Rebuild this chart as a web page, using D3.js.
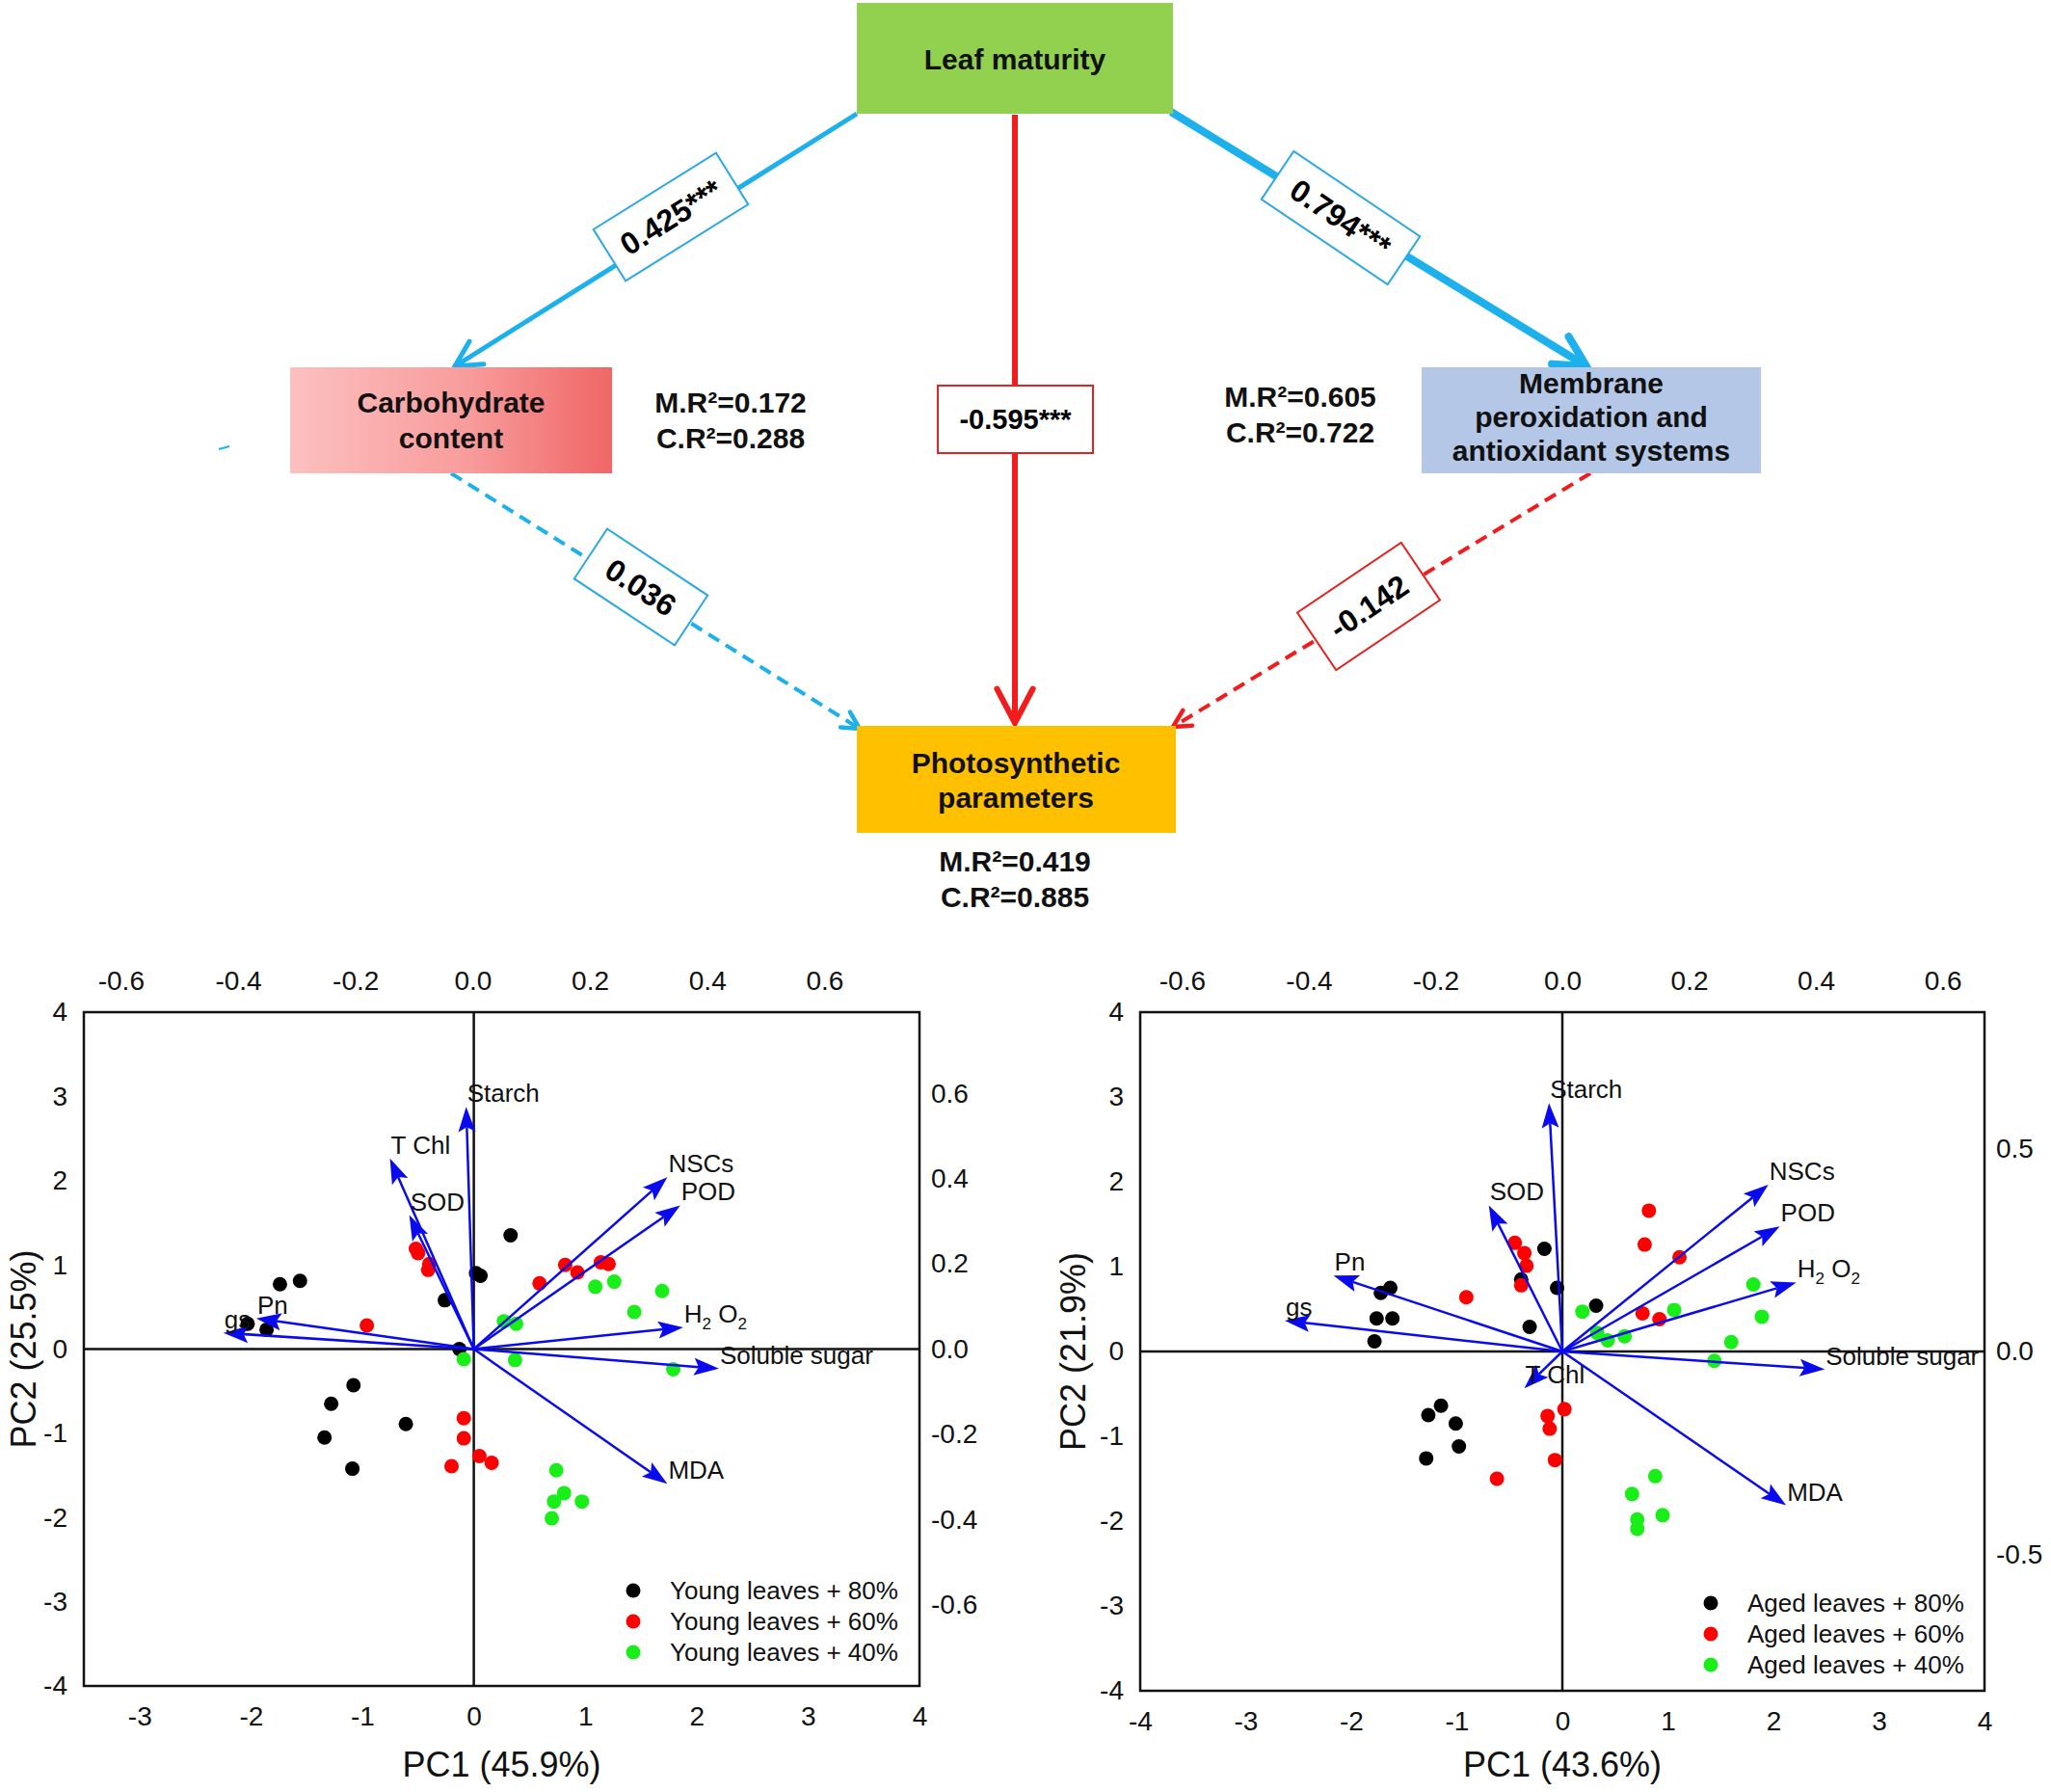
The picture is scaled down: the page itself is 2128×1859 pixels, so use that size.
<!DOCTYPE html>
<html>
<head>
<meta charset="utf-8">
<script src="https://cdn.jsdelivr.net/npm/d3@7"></script>
<style>
    body { margin: 0; background: #fff; }
    text { font-family: "Liberation Sans", Arial, sans-serif; }
</style>
</head>
<body>
<div id="figure"></div>
<script>
'use strict';

/*
* Values
 */

// structural equation model
const nodeLines = [
    ['Leaf maturity'],
    ['Carbohydrate', 'content'],
    ['Membrane', 'peroxidation and', 'antioxidant systems'],
    ['Photosynthetic', 'parameters']
];
const pathFrom = [0, 0, 0, 1, 2];
const pathTo = [1, 2, 3, 3, 3];
const pathCoef = ['0.425***', '0.794***', '-0.595***', '0.036', '-0.142'];
const pathSign = ['pos', 'pos', 'neg', 'pos', 'neg'];
const pathSignificant = [true, true, true, false, false];
const marginalR2 = [null, '0.172', '0.605', '0.419'];
const conditionalR2 = [null, '0.288', '0.722', '0.885'];

// PCA, young leaves
const youngScores80 = [[0.33, 1.35], [0.02, 0.90], [0.06, 0.87], [-1.74, 0.77], [-1.56, 0.81], [-0.26, 0.58], [-2.03, 0.30],
    [-1.86, 0.23], [-0.13, 0.00], [-1.08, -0.43], [-1.28, -0.65], [-0.61, -0.89], [-1.34, -1.05], [-1.09, -1.42]];
const youngScores60 = [[-0.52, 1.19], [-0.50, 1.14], [-0.40, 1.01], [-0.41, 0.94], [-0.96, 0.28], [0.59, 0.78], [0.82, 1.00],
    [0.93, 0.91], [1.14, 1.03], [1.21, 1.01], [-0.09, -0.82], [-0.09, -1.06], [0.05, -1.27], [0.16, -1.35], [-0.20, -1.39]];
const youngScores40 = [[1.09, 0.74], [1.26, 0.80], [1.69, 0.69], [1.44, 0.44], [0.27, 0.33], [0.38, 0.30], [-0.09, -0.12],
    [0.37, -0.13], [1.79, -0.24], [0.74, -1.44], [0.81, -1.71], [0.72, -1.81], [0.97, -1.81], [0.70, -2.01]];
const youngLoadings = [
    ['Starch', -0.011, 0.568], ['T Chl', -0.141, 0.447], ['SOD', -0.108, 0.314], ['NSCs', 0.332, 0.403],
    ['POD', 0.354, 0.337], ['H2O2', 0.359, 0.051], ['Soluble sugar', 0.420, -0.046], ['MDA', 0.332, -0.316],
    ['Pn', -0.369, 0.072], ['gs', -0.425, 0.038]
];

// PCA, aged leaves
const agedScores80 = [[-0.17, 1.21], [-0.39, 0.85], [-0.05, 0.75], [-1.72, 0.69], [-1.63, 0.75], [-1.76, 0.39], [-1.61, 0.39],
    [-1.78, 0.12], [-0.31, 0.29], [0.32, 0.54], [-1.27, -0.75], [-1.15, -0.64], [-1.01, -0.85], [-0.98, -1.12], [-1.29, -1.26]];
const agedScores60 = [[0.82, 1.66], [0.78, 1.26], [1.11, 1.11], [-0.45, 1.28], [-0.36, 1.16], [-0.34, 1.01], [-0.39, 0.78],
    [-0.91, 0.64], [0.76, 0.45], [0.92, 0.38], [0.02, -0.68], [-0.14, -0.76], [-0.12, -0.91], [-0.07, -1.28], [-0.62, -1.50]];
const agedScores40 = [[1.81, 0.79], [1.89, 0.41], [1.06, 0.49], [0.19, 0.47], [0.33, 0.22], [0.43, 0.13], [0.59, 0.18],
    [1.60, 0.11], [1.44, -0.11], [0.88, -1.47], [0.66, -1.68], [0.71, -1.98], [0.71, -2.09], [0.95, -1.93]];
const agedLoadings = [
    ['Starch', -0.021, 0.612], ['SOD', -0.116, 0.360], ['Pn', -0.361, 0.187], ['gs', -0.438, 0.076],
    ['T Chl', -0.060, -0.091], ['NSCs', 0.325, 0.411], ['POD', 0.343, 0.308], ['H2O2', 0.369, 0.170],
    ['Soluble sugar', 0.414, -0.044], ['MDA', 0.353, -0.379]
];

const scoreTicks = [-4, -3, -2, -1, 0, 1, 2, 3, 4];
const youngTopTicks = [-0.6, -0.4, -0.2, 0.0, 0.2, 0.4, 0.6];
const youngRightTicks = [-0.6, -0.4, -0.2, 0.0, 0.2, 0.4, 0.6];
const agedTopTicks = [-0.6, -0.4, -0.2, 0.0, 0.2, 0.4, 0.6];
const agedRightTicks = [-0.5, 0.0, 0.5];

/*
* Layout and styles
 */

const blue = '#1cb0ec',
    red = '#f21c1c';

let svg = d3.select('#figure').append('svg')
    .attr('width', 2128)
    .attr('height', 1859);

svg.append('rect').attr('width', 2128).attr('height', 1859).attr('fill', '#fff');

let defs = svg.append('defs');
let grad = defs.append('linearGradient').attr('id', 'carbGrad');
grad.append('stop').attr('offset', '0%').attr('stop-color', '#fcc0c0');
grad.append('stop').attr('offset', '55%').attr('stop-color', '#f89c9c');
grad.append('stop').attr('offset', '100%').attr('stop-color', '#f06666');

drawModel();

drawBiplot({
    left: 87, right: 954, top: 1050, bottom: 1749,
    xDomain: [-3.5, 4], xTicks: [-3, -2, -1, 0, 1, 2, 3, 4],
    topDomain: [-0.663, 0.762], topTicks: youngTopTicks,
    rightDomain: [-0.79, 0.79], rightTicks: youngRightTicks,
    groups: [youngScores80, youngScores60, youngScores40],
    loadings: youngLoadings,
    legend: ['Young leaves + 80%', 'Young leaves + 60%', 'Young leaves + 40%'],
    legendX: 657, legendY: 1650,
    xTitle: 'PC1 (45.9%)', yTitle: 'PC2 (25.5%)', yTitleX: 37
});

drawBiplot({
    left: 1183, right: 2059, top: 1050, bottom: 1754,
    xDomain: [-4, 4], xTicks: scoreTicks,
    topDomain: [-0.666, 0.666], topTicks: agedTopTicks,
    rightDomain: [-0.836, 0.836], rightTicks: agedRightTicks,
    groups: [agedScores80, agedScores60, agedScores40],
    loadings: agedLoadings,
    legend: ['Aged leaves + 80%', 'Aged leaves + 60%', 'Aged leaves + 40%'],
    legendX: 1775, legendY: 1663,
    xTitle: 'PC1 (43.6%)', yTitle: 'PC2 (21.9%)', yTitleX: 1126
});

function drawModel() {

    let nodeBox = [
        { x: 889, y: 3, w: 328, h: 115, fill: '#92d050', lineY: [72] , cx: 1053 },
        { x: 301, y: 381, w: 334, h: 110, fill: 'url(#carbGrad)', lineY: [428, 465], cx: 468 },
        { x: 1475, y: 381, w: 352, h: 110, fill: '#b4c7e7', lineY: [408, 443, 478], cx: 1651 },
        { x: 889, y: 753, w: 331, h: 111, fill: '#ffc000', lineY: [802, 838], cx: 1054 }
    ];

    let pathGeom = [
        { x1: 889, y1: 118, x2: 472, y2: 380, width: 5, head: 30, bx: 696, by: 225, bw: 150, bh: 63, angle: -32 },
        { x1: 1215, y1: 116, x2: 1646, y2: 380, width: 8, head: 36, bx: 1391, by: 226, bw: 158, bh: 60, angle: 34 },
        { x1: 1053, y1: 119, x2: 1053, y2: 750, width: 6, head: 40, bx: 1053.5, by: 435, bw: 161, bh: 70, angle: 0 },
        { x1: 468, y1: 491, x2: 892, y2: 756, width: 4, head: 20, bx: 665, by: 609, bw: 125, bh: 62, angle: 33.5 },
        { x1: 1650, y1: 491, x2: 1217, y2: 754, width: 4, head: 20, bx: 1420, by: 629, bw: 130, bh: 72, angle: -34 }
    ];

    let r2Pos = [null, { x: 758, y: 428 }, { x: 1349, y: 422 }, { x: 1053, y: 904 }];

    let model = svg.append('g').attr('id', 'model');

    // paths between the nodes
    let links = model.selectAll('.link')
        .data(pathCoef)
        .enter()
        .append('g')
        .attr('class', 'link');

    links.append('line')
        .attr('x1', function(d, i) { return pathGeom[i].x1; })
        .attr('y1', function(d, i) { return pathGeom[i].y1; })
        .attr('x2', function(d, i) { return pathGeom[i].x2; })
        .attr('y2', function(d, i) { return pathGeom[i].y2; })
        .style('stroke', function(d, i) { return pathSign[i] === 'pos' ? blue : red; })
        .style('stroke-width', function(d, i) { return pathGeom[i].width; })
        .style('stroke-dasharray', function(d, i) { return pathSignificant[i] ? null : '13,8'; });

    links.append('path')
        .attr('d', function(d, i) {
            let p = pathGeom[i],
                a = Math.atan2(p.y2 - p.y1, p.x2 - p.x1),
                spread = Math.PI / 6.5;
            let l1 = [p.x2 - p.head * Math.cos(a - spread), p.y2 - p.head * Math.sin(a - spread)],
                l2 = [p.x2 - p.head * Math.cos(a + spread), p.y2 - p.head * Math.sin(a + spread)];
            return 'M' + l1 + 'L' + p.x2 + ',' + p.y2 + 'L' + l2;
        })
        .style('fill', 'none')
        .style('stroke', function(d, i) { return pathSign[i] === 'pos' ? blue : red; })
        .style('stroke-width', function(d, i) { return Math.max(pathGeom[i].width, 4.5); })
        .style('stroke-linecap', 'round')
        .style('stroke-linejoin', 'miter');

    let labels = links.append('g')
        .attr('transform', function(d, i) {
            let p = pathGeom[i];
            return 'translate(' + p.bx + ',' + p.by + ') rotate(' + p.angle + ')';
        });

    labels.append('rect')
        .attr('x', function(d, i) { return -pathGeom[i].bw / 2; })
        .attr('y', function(d, i) { return -pathGeom[i].bh / 2; })
        .attr('width', function(d, i) { return pathGeom[i].bw; })
        .attr('height', function(d, i) { return pathGeom[i].bh; })
        .style('fill', '#fff')
        .style('stroke', function(d, i) { return pathSign[i] === 'pos' ? '#2aa8e4' : '#e32222'; })
        .style('stroke-width', 2);

    labels.append('text')
        .text(function(d) { return d; })
        .attr('text-anchor', 'middle')
        .attr('dy', '0.36em')
        .attr('font-weight', 'bold')
        .attr('font-size', function(d, i) { return pathGeom[i].angle === 0 ? 29 : 32; });

    // a small stray stroke left of the carbohydrate box
    model.append('line')
        .attr('x1', 227).attr('y1', 466).attr('x2', 238).attr('y2', 463)
        .style('stroke', blue).style('stroke-width', 2);

    // the nodes
    let nodes = model.selectAll('.node')
        .data(nodeLines)
        .enter()
        .append('g')
        .attr('class', 'node');

    nodes.append('rect')
        .attr('x', function(d, i) { return nodeBox[i].x; })
        .attr('y', function(d, i) { return nodeBox[i].y; })
        .attr('width', function(d, i) { return nodeBox[i].w; })
        .attr('height', function(d, i) { return nodeBox[i].h; })
        .style('fill', function(d, i) { return nodeBox[i].fill; });

    nodes.each(function(d, i) {
        d3.select(this).selectAll('text')
            .data(d)
            .enter()
            .append('text')
            .text(function(t) { return t; })
            .attr('x', nodeBox[i].cx)
            .attr('y', function(t, j) { return nodeBox[i].lineY[j]; })
            .attr('text-anchor', 'middle')
            .attr('font-weight', 'bold')
            .attr('font-size', 30)
            .attr('fill', '#111');
    });

    // explained variance
    marginalR2.forEach(function(m, i) {
        if (m === null) { return; }
        let t = model.append('text')
            .attr('text-anchor', 'middle')
            .attr('font-weight', 'bold')
            .attr('font-size', 30)
            .attr('fill', '#111');
        t.append('tspan').attr('x', r2Pos[i].x).attr('y', r2Pos[i].y).text('M.R\u00b2=' + m);
        t.append('tspan').attr('x', r2Pos[i].x).attr('y', r2Pos[i].y + 37).text('C.R\u00b2=' + conditionalR2[i]);
    });
}

function drawBiplot(cfg) {

    let x = d3.scaleLinear().domain(cfg.xDomain).range([cfg.left, cfg.right]),
        y = d3.scaleLinear().domain([-4, 4]).range([cfg.bottom, cfg.top]),
        xl = d3.scaleLinear().domain(cfg.topDomain).range([cfg.left, cfg.right]),
        yl = d3.scaleLinear().domain(cfg.rightDomain).range([cfg.bottom, cfg.top]);

    let g = svg.append('g').attr('class', 'biplot');
    let fmt1 = function(v) { return v.toFixed(1); },
        fmt0 = function(v) { return String(v); };

    let axes = [
        { axis: d3.axisBottom(x).tickValues(cfg.xTicks).tickFormat(fmt0).tickPadding(21), tr: 'translate(0,' + cfg.bottom + ')' },
        { axis: d3.axisLeft(y).tickValues(scoreTicks).tickFormat(fmt0).tickPadding(17), tr: 'translate(' + cfg.left + ',0)' },
        { axis: d3.axisTop(xl).tickValues(cfg.topTicks).tickFormat(fmt1).tickPadding(23), tr: 'translate(0,' + cfg.top + ')' },
        { axis: d3.axisRight(yl).tickValues(cfg.rightTicks).tickFormat(fmt1).tickPadding(12), tr: 'translate(' + cfg.right + ',0)' }
    ];

    axes.forEach(function(a) {
        let ag = g.append('g').attr('transform', a.tr).call(a.axis.tickSize(0));
        ag.select('.domain').remove();
        ag.selectAll('text')
            .attr('font-size', 28)
            .attr('font-family', '"Liberation Sans", Arial, sans-serif')
            .attr('fill', '#111');
    });

    // frame and zero lines
    g.append('rect')
        .attr('x', cfg.left).attr('y', cfg.top)
        .attr('width', cfg.right - cfg.left).attr('height', cfg.bottom - cfg.top)
        .style('fill', 'none').style('stroke', '#111').style('stroke-width', 2.5);

    g.append('line')
        .attr('x1', cfg.left).attr('x2', cfg.right).attr('y1', y(0)).attr('y2', y(0))
        .style('stroke', '#111').style('stroke-width', 2.5);
    g.append('line')
        .attr('x1', x(0)).attr('x2', x(0)).attr('y1', cfg.top).attr('y2', cfg.bottom)
        .style('stroke', '#111').style('stroke-width', 2.5);

    // sample scores
    let colors = ['#000000', '#ff0000', '#19ee19'];

    cfg.groups.forEach(function(pts, k) {
        g.append('g').selectAll('circle')
            .data(pts)
            .enter()
            .append('circle')
            .attr('cx', function(d) { return x(d[0]); })
            .attr('cy', function(d) { return y(d[1]); })
            .attr('r', 7.5)
            .style('fill', colors[k]);
    });

    // variable loadings
    let vec = g.append('g').selectAll('.vector')
        .data(cfg.loadings)
        .enter()
        .append('g')
        .attr('class', 'vector');

    let headLen = 26, headHalf = 9, notch = 5;

    vec.append('line')
        .attr('x1', x(0)).attr('y1', y(0))
        .attr('x2', function(d) {
            let a = Math.atan2(yl(d[2]) - y(0), xl(d[1]) - x(0));
            return xl(d[1]) - (headLen - notch) * Math.cos(a);
        })
        .attr('y2', function(d) {
            let a = Math.atan2(yl(d[2]) - y(0), xl(d[1]) - x(0));
            return yl(d[2]) - (headLen - notch) * Math.sin(a);
        })
        .style('stroke', '#0a0aee')
        .style('stroke-width', 2.5);

    vec.append('path')
        .attr('d', function(d) {
            let tx = xl(d[1]), ty = yl(d[2]),
                a = Math.atan2(ty - y(0), tx - x(0)),
                c = Math.cos(a), s = Math.sin(a);
            let bx = tx - headLen * c, by = ty - headLen * s;
            let p1 = [bx + headHalf * s, by - headHalf * c],
                p2 = [bx - headHalf * s, by + headHalf * c],
                n = [tx - (headLen - notch) * c, ty - (headLen - notch) * s];
            return 'M' + tx + ',' + ty + 'L' + p1 + 'L' + n + 'L' + p2 + 'Z';
        })
        .style('fill', '#0a0aee');

    vec.append('text')
        .attr('x', function(d) { return xl(d[1]) + 1; })
        .attr('y', function(d) { return yl(d[2]) - 5; })
        .attr('font-size', 26)
        .attr('fill', '#111')
        .each(function(d) {
            let t = d3.select(this);
            if (d[0] === 'H2O2') {
                t.append('tspan').text('H');
                t.append('tspan').attr('font-size', 17).attr('dy', 7).text('2');
                t.append('tspan').attr('dy', -7).text(' O');
                t.append('tspan').attr('font-size', 17).attr('dy', 7).text('2');
            } else {
                t.text(d[0]);
            }
        });

    // legend
    let legend = g.append('g').selectAll('.key')
        .data(cfg.legend)
        .enter()
        .append('g')
        .attr('class', 'key')
        .attr('transform', function(d, i) { return 'translate(' + cfg.legendX + ',' + (cfg.legendY + i * 32) + ')'; });

    legend.append('circle')
        .attr('r', 7.5)
        .style('fill', function(d, i) { return colors[i]; });

    legend.append('text')
        .text(function(d) { return d; })
        .attr('x', 38)
        .attr('dy', '0.35em')
        .attr('font-size', 26)
        .attr('fill', '#111');

    // axis titles
    g.append('text')
        .text(cfg.xTitle)
        .attr('x', (cfg.left + cfg.right) / 2)
        .attr('y', 1843)
        .attr('text-anchor', 'middle')
        .attr('font-size', 36)
        .attr('fill', '#111');

    g.append('text')
        .text(cfg.yTitle)
        .attr('transform', 'translate(' + cfg.yTitleX + ',' + ((cfg.top + cfg.bottom) / 2) + ') rotate(-90)')
        .attr('text-anchor', 'middle')
        .attr('font-size', 36)
        .attr('fill', '#111');
}
</script>
</body>
</html>
